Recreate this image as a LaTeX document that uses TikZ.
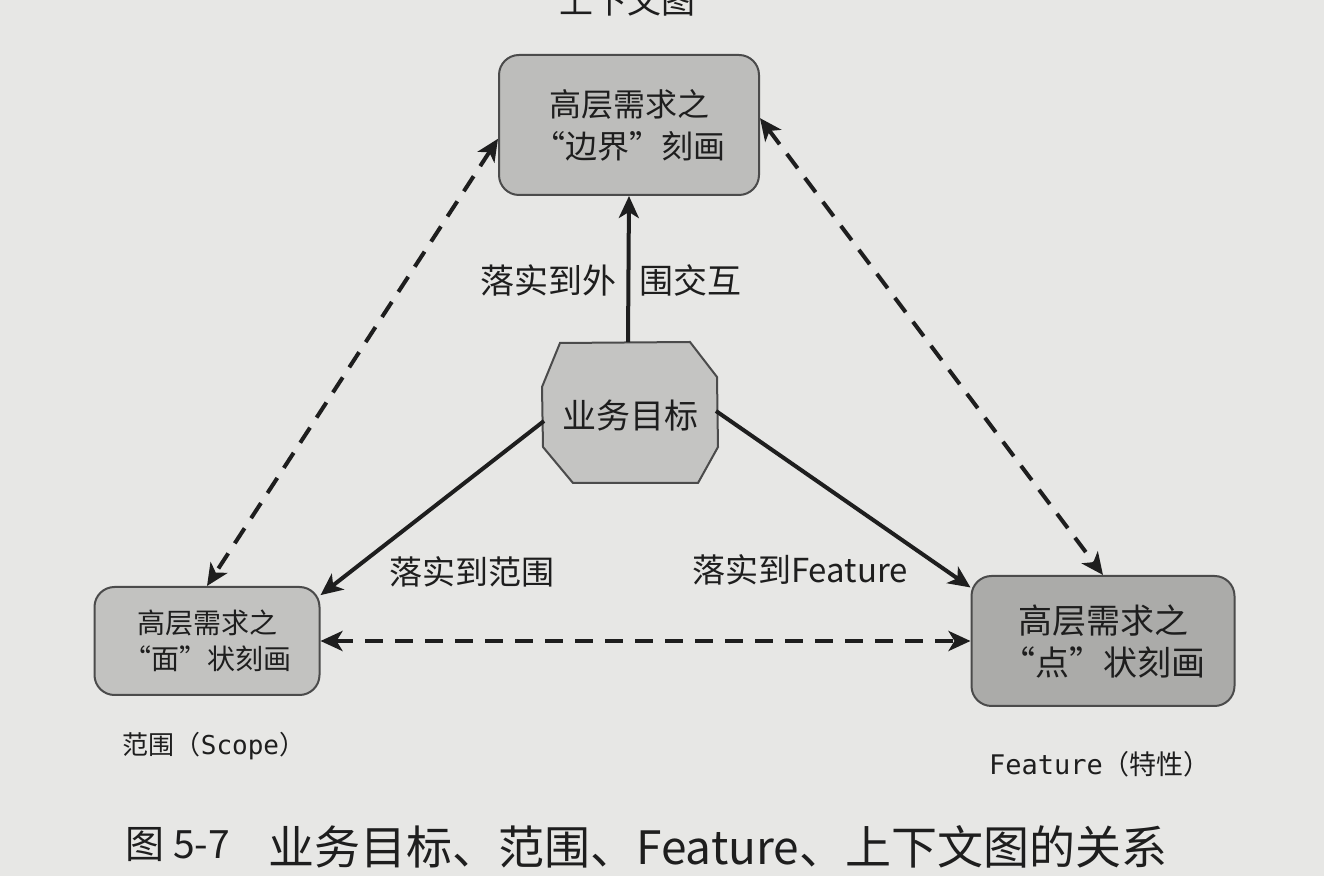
\documentclass[tikz,border=0pt]{standalone}
\usepackage{fontspec}
\setmainfont{Noto Sans CJK SC}
\newfontfamily\monofont{DejaVu Sans Mono}
\usetikzlibrary{arrows.meta}
\definecolor{paper}{HTML}{E7E7E5}
\definecolor{ink}{HTML}{1E1E1E}
\definecolor{boxA}{HTML}{BDBDBB}
\definecolor{boxB}{HTML}{C2C2C0}
\definecolor{boxC}{HTML}{ABABA9}
\definecolor{octo}{HTML}{C4C4C2}
\tikzset{
  reqbox/.style={draw=ink!80, line width=1pt, rounded corners=10pt, align=center, inner sep=0pt, text=ink},
  solidarrow/.style={draw=ink, line width=2pt, -{Stealth[length=11pt,width=10pt,inset=3pt]}},
  dasharrow/.style={draw=ink, line width=2pt, dash pattern=on 9pt off 6pt,
     {Stealth[length=11pt,width=10pt,inset=3pt]}-{Stealth[length=11pt,width=10pt,inset=3pt]}},
  lbl/.style={text=ink, inner sep=0pt}
}
\begin{document}
\begin{tikzpicture}[x=0.5pt,y=-0.5pt]
\useasboundingbox (0,0) rectangle (1324,876);
\fill[paper] (0,0) rectangle (1324,876);

% partially cut title at top
\node[lbl, font=\fontsize{17}{20}\selectfont] (ctx) at (627,0) {上下文图};

% boxes
\node[reqbox, fill=boxA, minimum width=130pt, minimum height=70pt, font=\fontsize{16}{21}\selectfont] (top) at (629,125) {高层需求之\\“边界”刻画};
\node[reqbox, fill=boxB, minimum width=112.5pt, minimum height=54pt, font=\fontsize{14}{18}\selectfont] (left) at (207,641) {高层需求之\\“面”状刻画};
\node[reqbox, fill=boxC, minimum width=131.5pt, minimum height=65pt, font=\fontsize{17}{21}\selectfont] (right) at (1103,641) {高层需求之\\“点”状刻画};

% octagon
\coordinate (o1) at (560,343);
\coordinate (o2) at (690,342);
\coordinate (o3) at (717,377);
\coordinate (o4) at (718,447);
\coordinate (o5) at (698,483);
\coordinate (o6) at (573,483);
\coordinate (o7) at (543,447);
\coordinate (o8) at (542,387);
\filldraw[fill=octo, draw=ink!80, line width=1pt] (o1) -- (o2) -- (o3) -- (o4) -- (o5) -- (o6) -- (o7) -- (o8) -- cycle;
\node[lbl, font=\fontsize{17}{20}\selectfont] (goal) at (630,416) {业务目标};
\coordinate (gtop) at (628,342);
\coordinate (gleft) at (544,421);
\coordinate (gright) at (716,411);

% solid arrows
\draw[solidarrow] (gtop) -- (top.south);
\draw[solidarrow] (gleft) -- (left.22);
\draw[solidarrow] (gright) -- (right.158);

% dashed arrows
\draw[dasharrow] (top.186) -- (left.north);
\draw[dasharrow] (top.3) -- (right.north);
\draw[dasharrow] (left.east) -- (right.west);

% labels
\node[lbl, font=\fontsize{17}{20}\selectfont] (l1) at (611,280) {落实到外\hspace{12pt}围交互};
\node[lbl, font=\fontsize{16.5}{20}\selectfont] (l2) at (472,572) {落实到范围};
\node[lbl, font=\fontsize{16.5}{20}\selectfont] (l3) at (800,570) {落实到Feature};
\node[lbl, font=\fontsize{13}{16}\selectfont] (scope) at (214,746) {范围（{\monofont Scope}）};
\node[lbl, font=\fontsize{13.5}{16}\selectfont] (feat) at (1100,764) {{\monofont Feature}（特性）};

% caption
\node[lbl, font=\fontsize{19.5}{22}\selectfont, anchor=west] (fig) at (125,845) {图 5-7};
\node[lbl, font=\fontsize{23}{26}\selectfont, anchor=west] (cap) at (268,847) {业务目标、范围、Feature、上下文图的关系};
\end{tikzpicture}
\end{document}
